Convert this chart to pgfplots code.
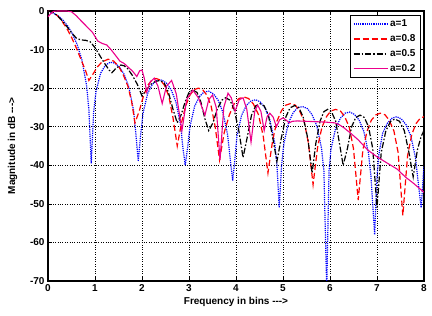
\documentclass[border=0pt]{standalone}
\usepackage{fontspec}
\setmainfont{Liberation Sans}
\usepackage{pgfplots}
\pgfplotsset{compat=1.18}
\begin{document}
\begin{tikzpicture}
\useasboundingbox (-48pt,-35pt) rectangle (384pt,281pt);
\begin{axis}[
  scale only axis, width=376pt, height=270pt,
  xmin=0, xmax=8, ymin=-70, ymax=0,
  xtick={0,1,...,8}, ytick={-70,-60,...,0},
  tick align=inside, tick pos=both,
  grid=major, major grid style={dotted, black, line width=0.5pt},
  axis line style={line width=1.1pt},
  every tick/.style={black, line width=0.6pt},
  major tick length=4pt,
  /pgf/number format/assume math mode=true,
  tick label style={font=\fontsize{10}{12}\selectfont\bfseries},
  xlabel={Frequency in bins -{}-{}->},
  ylabel={Magnitude in dB -{}-{}->},
  label style={font=\fontsize{10}{12}\selectfont\bfseries},
  xlabel style={at={(axis description cs:0.5,-0.078)}, anchor=center},
  ylabel style={at={(axis description cs:-0.094,0.5)}, anchor=center},
  legend style={at={(0.99,0.985)}, anchor=north east, draw=black, line width=0.5pt,
    font=\fontsize{10}{12}\selectfont\bfseries, row sep=2.5pt, inner sep=2.5pt},
  legend cell align=left,
  legend image code/.code={\draw[#1] (0pt,0pt) -- (34pt,0pt);},
]
\addplot[blue, line width=1.2pt, densely dotted] coordinates {
(0,0) (0.12,-0.6) (0.22,-1.3) (0.32,-2.4) (0.42,-3.9) (0.52,-5.9) (0.62,-8.7) (0.72,-12.6) (0.82,-19.2) (0.87,-25.6) (0.92,-39.5)
(0.97,-26.5) (1.02,-21.0) (1.12,-16.1) (1.22,-14.1) (1.32,-13.3) (1.42,-13.5) (1.52,-14.5) (1.62,-16.4) (1.72,-19.7) (1.82,-25.7) (1.87,-31.9) (1.92,-39)
(1.97,-32.3) (2.02,-26.6) (2.12,-21.4) (2.22,-19.0) (2.32,-18.0) (2.42,-17.9) (2.52,-18.7) (2.62,-20.4) (2.72,-23.5) (2.82,-29.4) (2.87,-35.4) (2.92,-40)
(2.97,-35.5) (3.02,-30.0) (3.12,-24.7) (3.22,-22.2) (3.32,-21.0) (3.42,-20.8) (3.52,-21.5) (3.62,-23.1) (3.72,-26.2) (3.82,-32.0) (3.87,-37.6) (3.93,-44)
(3.98,-38) (4.02,-32.4) (4.12,-27.0) (4.22,-24.5) (4.32,-23.3) (4.42,-23.0) (4.52,-23.6) (4.62,-25.2) (4.72,-28.2) (4.82,-33.9) (4.87,-39.6) (4.92,-51)
(4.97,-40) (5.02,-34.3) (5.12,-28.9) (5.22,-26.3) (5.32,-25.0) (5.42,-24.8) (5.52,-25.3) (5.62,-26.9) (5.72,-29.8) (5.82,-35.6) (5.87,-41.3) (5.93,-72)
(5.98,-41.5) (6.02,-35.9) (6.12,-30.4) (6.22,-27.8) (6.32,-26.5) (6.42,-26.2) (6.52,-26.8) (6.62,-28.3) (6.72,-31.2) (6.82,-36.9) (6.87,-42.6) (6.95,-58)
(7.0,-43) (7.04,-37.2) (7.12,-31.7) (7.22,-29.1) (7.32,-27.8) (7.42,-27.4) (7.52,-28.0) (7.62,-29.5) (7.72,-32.4) (7.82,-38.1) (7.87,-43.8) (7.94,-51) (8.0,-40.2)
};
\addlegendentry{a=1}
\addplot[red, line width=1.2pt, dash pattern=on 6pt off 3pt] coordinates {
(0,0) (0.1,-0.3) (0.2,-1.2) (0.3,-2.7) (0.4,-4.5) (0.5,-6.8) (0.6,-9.5) (0.7,-12.5) (0.8,-15.5) (0.87,-18)
(0.95,-16.5) (1.05,-14.5) (1.15,-13.2) (1.28,-12.5) (1.4,-13) (1.5,-14.3) (1.6,-16.5) (1.7,-19.5) (1.78,-23.5) (1.85,-29)
(1.94,-26) (2.03,-22.1) (2.12,-19.3) (2.21,-17.9) (2.3,-17.5) (2.39,-17.9) (2.48,-19.3) (2.57,-22.1) (2.66,-27.7) (2.75,-35)
(2.84,-29) (2.93,-24.6) (3.02,-21.8) (3.11,-20.4) (3.2,-20) (3.29,-20.4) (3.38,-21.8) (3.47,-24.6) (3.56,-30.2) (3.65,-38.6)
(3.75,-31.5) (3.86,-26.9) (3.96,-24.1) (4.06,-22.7) (4.17,-22.3) (4.27,-22.7) (4.37,-24.1) (4.48,-26.9) (4.58,-32.5) (4.68,-42)
(4.78,-33.5) (4.87,-28.6) (4.97,-25.8) (5.06,-24.4) (5.16,-24) (5.26,-24.4) (5.35,-25.8) (5.45,-28.6) (5.54,-34.2) (5.64,-45)
(5.74,-35) (5.83,-30.1) (5.93,-27.3) (6.02,-25.9) (6.12,-25.5) (6.22,-25.9) (6.31,-27.3) (6.41,-30.1) (6.5,-35.7) (6.6,-49)
(6.7,-36) (6.79,-31.1) (6.88,-28.3) (6.98,-26.9) (7.07,-26.5) (7.17,-26.9) (7.26,-28.3) (7.36,-31.1) (7.45,-36.7) (7.55,-53)
(7.65,-37.6) (7.74,-32) (7.83,-29.2) (7.92,-27.8) (8.0,-27.4)
};
\addlegendentry{a=0.8}
\addplot[black, line width=1.2pt, dash pattern=on 6pt off 2pt on 1.5pt off 2pt] coordinates {
(0,0) (0.1,-0.3) (0.2,-1.2) (0.3,-2.5) (0.4,-4) (0.5,-5.6) (0.6,-7) (0.7,-7.5) (0.8,-7.6) (0.9,-8) (1.0,-9.5) (1.1,-11.5) (1.2,-13.5) (1.3,-15.3) (1.36,-16) (1.45,-14.8) (1.55,-14) (1.62,-14.2) (1.7,-15) (1.8,-16.8) (1.9,-19) (2.0,-22)
(2.09,-20.5) (2.19,-19) (2.28,-18.3) (2.38,-18) (2.47,-18.6) (2.56,-21) (2.66,-25.5) (2.75,-29)
(2.83,-27) (2.92,-23.5) (3.0,-21.1) (3.08,-20.5) (3.17,-21.1) (3.25,-23.5) (3.34,-28) (3.42,-31)
(3.51,-29) (3.6,-25.5) (3.7,-23.1) (3.78,-22.5) (3.87,-23.1) (3.96,-25.5) (4.06,-31) (4.15,-38)
(4.24,-32.7) (4.33,-27) (4.42,-24.6) (4.51,-24) (4.6,-24.6) (4.69,-27) (4.78,-32.7) (4.87,-39)
(4.96,-33.2) (5.06,-27.5) (5.15,-25.1) (5.25,-24.5) (5.34,-25.1) (5.43,-27.5) (5.53,-33.2) (5.62,-42)
(5.7,-34.2) (5.79,-28.5) (5.87,-26.1) (5.95,-25.5) (6.03,-26.1) (6.12,-28.5) (6.2,-34.2) (6.28,-40)
(6.37,-35.7) (6.46,-30) (6.55,-27.6) (6.64,-27) (6.73,-27.6) (6.82,-30) (6.91,-35.7) (7.0,-51)
(7.09,-36.7) (7.19,-31) (7.29,-28.6) (7.38,-28) (7.48,-28.6) (7.58,-31) (7.68,-36.7) (7.77,-43)
(7.86,-36) (7.94,-32.5) (8.0,-31)
};
\addlegendentry{a=0.5}
\addplot[magenta, line width=1.1pt] coordinates {
(0,-1.5) (0.05,-0.8) (0.12,-0.1) (0.2,0) (0.3,0) (0.4,0) (0.5,-0.2) (0.6,-1.2) (0.7,-2.5) (0.79,-3.6) (0.87,-4.6) (0.95,-5.6) (1.06,-7.8) (1.15,-8.4) (1.25,-8.8) (1.34,-10) (1.43,-11.4) (1.53,-13) (1.62,-13.6) (1.7,-14.5) (1.8,-15.6) (1.89,-17) (1.95,-15.5) (2.0,-15.3) (2.05,-17.5) (2.1,-21) (2.17,-18.5) (2.26,-17.4) (2.34,-19.5) (2.43,-24) (2.52,-19.5) (2.63,-18) (2.73,-21.5) (2.85,-31) (2.95,-23) (3.08,-20.5) (3.2,-22.5) (3.34,-27) (3.42,-23) (3.5,-21.8) (3.58,-25) (3.66,-38.6) (3.74,-25) (3.83,-21.3) (3.9,-22.5) (3.98,-26) (4.07,-23) (4.15,-22.5) (4.23,-25.5) (4.32,-34) (4.4,-26) (4.46,-24.4) (4.53,-26) (4.6,-31) (4.66,-27.5) (4.72,-26.5) (4.79,-27.5) (4.86,-30) (4.93,-28.2) (5.0,-27.7) (5.07,-28.3) (5.13,-29) (5.2,-28.6) (5.3,-28.5) (5.5,-28.6) (5.7,-28.7) (5.9,-28.8) (6.1,-29) (6.2,-29.5) (6.3,-30.3) (6.45,-31.8) (6.6,-33.4) (6.8,-36) (7.0,-37.8) (7.2,-39.3) (7.43,-41) (7.6,-43) (7.77,-44.6) (8.0,-47)
};
\addlegendentry{a=0.2}
\end{axis}
\end{tikzpicture}
\end{document}
